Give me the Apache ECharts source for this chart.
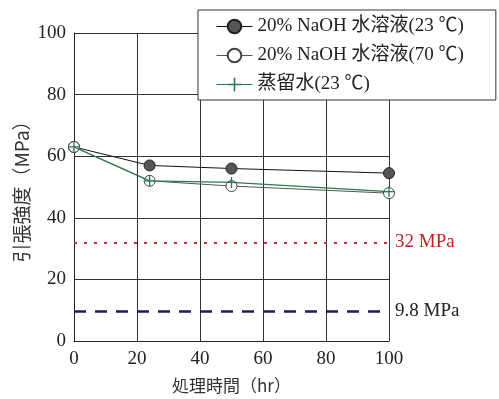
<!DOCTYPE html>
<html>
<head>
<meta charset="utf-8">
<script src="https://cdn.jsdelivr.net/npm/echarts@6/dist/echarts.min.js"></script>
<style>
  html, body { margin: 0; padding: 0; background: #fff; }
  #chart { width: 499px; height: 399px; }
</style>
</head>
<body>
<div id="chart"></div>
<script>
  // 処理時間 (hr)
  const hours = [0, 24, 50, 100];
  // 引張強度 (MPa)
  const naoh23 = [63, 57, 56, 54.5];
  const naoh70 = [63, 52, 50.3, 48];
  const water = [63, 52, 51.5, 48.5];
  const seriesNames = ['20% NaOH 水溶液(23 ℃)', '20% NaOH 水溶液(70 ℃)', '蒸留水(23 ℃)'];
  // 基準線
  const refValues = [32, 9.8];
  const refLabels = ['32 MPa', '9.8 MPa'];

  const serif = '"Liberation Serif", "Noto Sans CJK JP", serif';
  const cjk = '"Noto Sans CJK JP", "Liberation Serif", sans-serif';

  function pairs(ys) {
    return hours.map((h, i) => [h, ys[i]]);
  }

  const plusPath = 'path://M4.4,0H5.6V4.4H10V5.6H5.6V10H4.4V5.6H0V4.4H4.4Z';

  let myChart = echarts.init(document.getElementById('chart'));
  let option = {
    animation: false,
    grid: { left: 74, right: 110, top: 33, bottom: 51 },
    legend: {
      orient: 'vertical',
      left: 198,
      top: 10,
      padding: [7, 32, 6, 18],
      itemGap: 10,
      itemWidth: 36,
      itemHeight: 17,
      backgroundColor: '#fff',
      borderColor: '#333',
      borderWidth: 1,
      lineStyle: { width: 1 },
      textStyle: { fontFamily: serif, fontSize: 19, color: '#222' },
      data: seriesNames
    },
    xAxis: {
      type: 'value',
      min: 0, max: 100, interval: 20,
      name: '処理時間（hr）',
      nameLocation: 'middle',
      nameGap: 36,
      nameMoveOverlap: false,
      nameTextStyle: { fontFamily: cjk, fontSize: 17, color: '#333' },
      axisLine: { lineStyle: { color: '#222', width: 1 } },
      axisTick: { show: false },
      axisLabel: { fontFamily: serif, fontSize: 19, color: '#222', margin: 9 },
      splitLine: { show: true, lineStyle: { color: '#333', width: 1 } }
    },
    yAxis: {
      type: 'value',
      min: 0, max: 100, interval: 20,
      name: '引張強度（MPa）',
      nameLocation: 'middle',
      nameRotate: 90,
      nameGap: 43,
      nameMoveOverlap: false,
      nameTextStyle: { fontFamily: cjk, fontSize: 19, color: '#333' },
      axisLine: { show: true, lineStyle: { color: '#222', width: 1 } },
      axisTick: { show: false },
      axisLabel: { fontFamily: serif, fontSize: 19, color: '#222', margin: 8 },
      splitLine: { show: true, lineStyle: { color: '#333', width: 1 } }
    },
    series: [
      {
        name: seriesNames[0],
        type: 'line',
        data: pairs(naoh23),
        symbol: 'circle',
        symbolSize: 11,
        lineStyle: { color: '#111', width: 1 },
        itemStyle: { color: '#555', borderColor: '#222', borderWidth: 1 },
        z: 2,
        markLine: {
          silent: true,
          symbol: 'none',
          data: [
            {
              yAxis: refValues[0],
              lineStyle: { color: '#d42a2a', type: [3, 7], width: 2 },
              label: { formatter: refLabels[0], position: 'end', color: '#c02020', fontFamily: serif, fontSize: 19, distance: 6 }
            },
            {
              yAxis: refValues[1],
              lineStyle: { color: '#1c1c5c', type: [12, 9], width: 2.5 },
              label: { formatter: refLabels[1], position: 'end', color: '#222', fontFamily: serif, fontSize: 19, distance: 6 }
            }
          ]
        }
      },
      {
        name: seriesNames[1],
        type: 'line',
        data: pairs(naoh70),
        symbol: 'circle',
        symbolSize: 11,
        lineStyle: { color: '#555', width: 1 },
        itemStyle: { color: '#fff', borderColor: '#444', borderWidth: 1 },
        z: 3
      },
      {
        name: seriesNames[2],
        type: 'line',
        data: pairs(water),
        symbol: plusPath,
        symbolSize: 11,
        lineStyle: { color: '#2a7a50', width: 1.2 },
        itemStyle: { color: '#2a7a50' },
        z: 4
      }
    ]
  };
  myChart.setOption(option);
</script>
</body>
</html>
